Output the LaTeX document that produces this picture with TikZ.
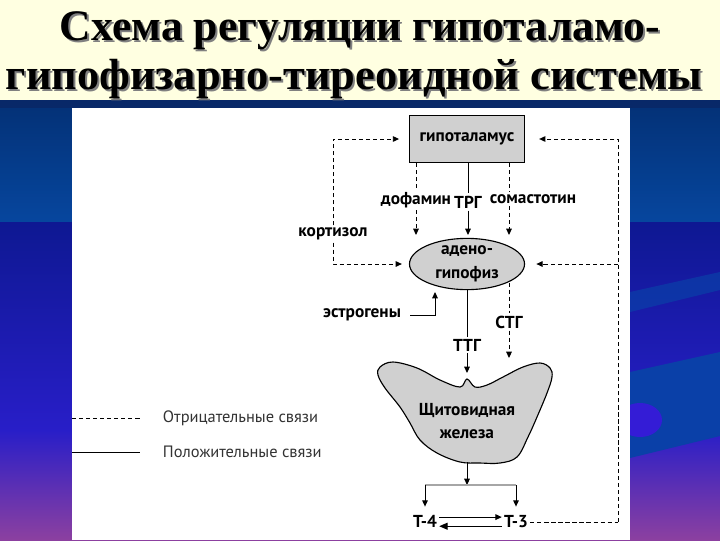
\documentclass[tikz,border=0pt]{standalone}
\usepackage{fontspec}
\setmainfont{Liberation Serif}
\newfontfamily\titlefont{Liberation Serif}
\newfontfamily\labelfont{PT Sans}
\usepackage{graphicx}
\usetikzlibrary{arrows.meta,shapes.geometric}

\definecolor{cream}{RGB}{255,255,225}
\definecolor{navy}{RGB}{8,40,104}
\definecolor{slateA}{RGB}{4,50,120}
\definecolor{slateB}{RGB}{6,70,158}
\definecolor{royalA}{RGB}{14,24,146}
\definecolor{royalB}{RGB}{40,30,200}
\definecolor{tealband}{RGB}{10,64,168}
\definecolor{bluespot}{RGB}{52,28,214}
\definecolor{violet}{RGB}{104,16,200}
\definecolor{plum}{RGB}{140,64,160}
\definecolor{organ}{RGB}{208,208,208}
\definecolor{legendtext}{RGB}{51,51,51}

\newcommand{\titleline}[2]{\resizebox{#1}{\height}{\titlefont\bfseries\fontsize{31}{34}\selectfont #2}}

\tikzset{
  negline/.style={line width=0.7pt, dash pattern=on 3pt off 2pt},
  posline/.style={line width=0.7pt},
  tip/.style={-{Triangle[length=4.5pt,width=4pt]}},
  lbl/.style={font={\labelfont\bfseries\fontsize{12.3}{14}\selectfont}, inner sep=1.5pt},
  organbox/.style={draw, line width=0.8pt, fill=organ, lbl},
  hormone/.style={lbl, text height=8.5pt, text depth=0pt},
  legend/.style={font={\labelfont\fontsize{11.7}{13}\selectfont}, text=legendtext, anchor=west},
}

\begin{document}
\begin{tikzpicture}[x=0.025cm,y=-0.025cm]
\useasboundingbox (0,0) rectangle (720,540);
\fill[cream] (0,0) rectangle (720,100);
\fill[navy] (0,100) rectangle (720,108);
\shade[top color=slateA,bottom color=slateB] (0,108) rectangle (720,222);
\shade[top color=royalA,bottom color=royalB] (0,222) rectangle (720,430);
\shade[top color=royalB,middle color=violet,bottom color=plum] (0,430) rectangle (720,540);
\fill[tealband, opacity=0.7] (630,292) -- (720,272) -- (720,290) -- (630,312) -- cycle;
\fill[tealband] (630,372) -- (720,352) -- (720,436) -- (630,458) -- cycle;
\fill[bluespot] (640,420) ellipse (22 and 17);
\draw[tealband, line width=1.5pt] (628,228) arc (-90:90:-12 and -25);
\fill[white] (72,108) rectangle (630,540);

\node[anchor=base,text=gray] at (362,42) {\titleline{15cm}{Схема регуляции гипоталамо-}};
\node[anchor=base] (title1) at (360,40) {\titleline{15cm}{Схема регуляции гипоталамо-}};
\node[anchor=base,text=gray] at (356,91) {\titleline{17.4cm}{гипофизарно-тиреоидной системы}};
\node[anchor=base] (title2) at (354,89) {\titleline{17.4cm}{гипофизарно-тиреоидной системы}};

\node[organbox, minimum width=2.875cm, minimum height=1.175cm] (hyp) at (467,139) {гипоталамус};
\node[organbox, ellipse, minimum width=2.875cm, minimum height=1.2cm, inner sep=0pt, align=center,
  font={\labelfont\bfseries\fontsize{12.3}{17}\selectfont}] (adeno) at (467,264) {адено-\\гипофиз};

\draw[line width=0.8pt, fill=organ] plot[smooth cycle, tension=0.6] coordinates {
  (467,379) (475,387) (487,385) (503,377) (523,367) (540,363) (550,368) (552,377)
  (547,393) (537,417) (528,437) (517,457) (500,463) (480,463) (460,462) (437,453)
  (420,440) (410,423) (400,407) (385,388) (378,375) (380,367) (393,362) (417,368)
  (440,380) (460,387)};

\node[lbl] (dof) at (416,200) {дофамин};
\node[lbl] (trg) at (468,202) {ТРГ};
\node[lbl] (som) at (533,199) {сомастотин};
\node[lbl] (kort) at (333,234) {кортизол};
\node[lbl] (estr) at (362,315) {эстрогены};
\node[lbl] (ttg) at (467,345) {ТТГ};
\node[lbl] (stg) at (509,322) {СТГ};
\node[lbl, align=center, font={\labelfont\bfseries\fontsize{12.3}{16}\selectfont}] (thy) at (467,421) {Щитовидная\\железа};
\node[hormone] (t4) at (425,522) {Т-4};
\node[hormone] (t3) at (516,522) {Т-3};

\coordinate (eup) at (435,292);
\coordinate (notch) at (467,373);
\coordinate (stgend) at (509,358);
\coordinate (thybot) at (467,462);
\coordinate (split) at (467,485);
\coordinate (rc) at (618,522);

\draw[negline] (hyp.south -| dof) -- (dof.north);
\draw[negline,tip,shorten >=2pt] (dof.south) -- (dof |- adeno.north);
\draw[posline] (hyp.south -| trg) -- (trg.north);
\draw[posline,tip,shorten >=2pt] (trg.south) -- (trg |- adeno.north);
\draw[negline] (hyp.south -| stg) -- (som.north -| stg);
\draw[negline,tip,shorten >=2pt] (som.south -| stg) -- (stg |- adeno.north);

\draw[negline,tip,shorten >=7pt] (kort.north) |- (hyp.west);
\draw[negline,tip,shorten >=5pt] (kort.south) |- (adeno.west);

\draw[negline] (t3.east) -- (rc);
\draw[negline,tip,shorten >=10pt] (rc) |- (hyp.east);
\draw[negline,tip,shorten >=8pt] (rc |- adeno.east) -- (adeno.east);

\draw[posline,tip,shorten <=5pt] (estr.east) -| (eup);
\draw[posline] (adeno.south) -- (ttg.north);
\draw[posline,tip] (ttg.south) -- (notch);
\draw[negline] (stg.north |- adeno.south east) -- (stg.north);
\draw[negline,tip] (stg.south) -- (stgend);

\draw[posline,tip] (thybot) -- (split);
\draw[gray!70, line width=1.2pt] (split -| t4) -- (split -| t3);
\draw[posline,tip,shorten >=5pt] (split -| t4) -- (t4.north);
\draw[posline,tip,shorten >=5pt] (split -| t3) -- (t3.north);
\draw[posline,tip] ([yshift=3.5pt]t4.east) -- ([yshift=3.5pt]t3.west);
\draw[posline,-{Triangle[length=6pt,width=5pt]}] ([yshift=-3pt]t3.west) -- ([yshift=-3pt]t4.east);

\node[legend] (negtext) at (158,418) {Отрицательные связи};
\node[legend] (postext) at (158,452) {Положительные связи};
\coordinate (legneg) at (72,418);
\coordinate (legpos) at (72,452);
\draw[negline, line width=0.6pt] (legneg) -- ++(68,0);
\draw[posline, line width=0.6pt] (legpos) -- ++(68,0);
\end{tikzpicture}
\end{document}
